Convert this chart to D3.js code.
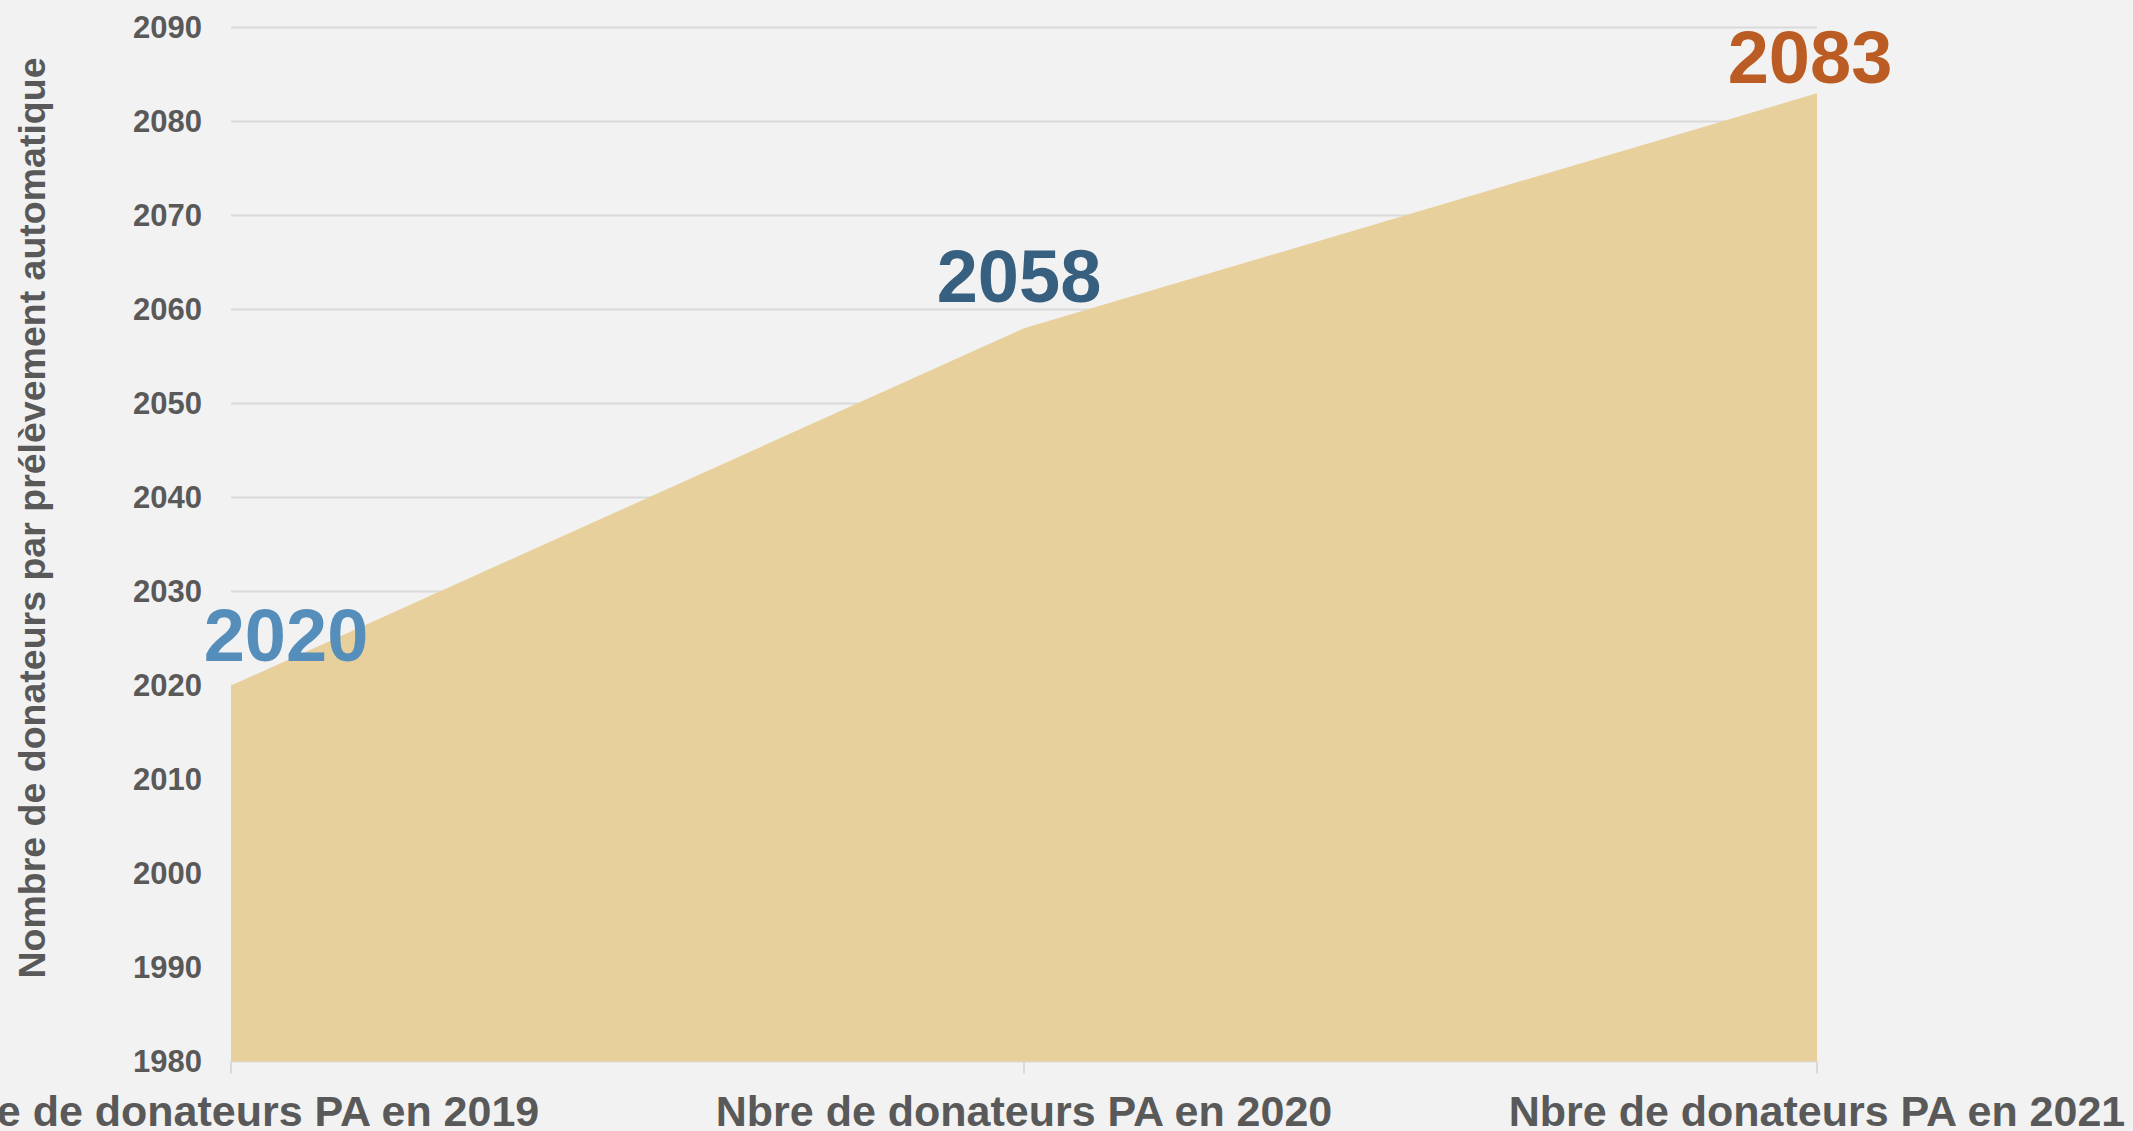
<!DOCTYPE html>
<html>
<head>
<meta charset="utf-8">
<script src="https://cdn.jsdelivr.net/npm/d3@7"></script>
<style>
  html, body { margin: 0; padding: 0; background: #f2f2f2; overflow: hidden; }
  svg { display: block; }
</style>
</head>
<body>
<svg id="chart" width="2133" height="1131"></svg>
<script>
const categories = ["Nbre de donateurs PA en 2019", "Nbre de donateurs PA en 2020", "Nbre de donateurs PA en 2021"];
const values = [2020, 2058, 2083];
const yTicks = [1980, 1990, 2000, 2010, 2020, 2030, 2040, 2050, 2060, 2070, 2080, 2090];
const yTitle = "Nombre de donateurs par prélèvement automatique";
const labelColors = ["#568ebb", "#365f80", "#ba5c23"];

(function () {
const W = 2133, H = 1131;
const svg = d3.select("#chart");
svg.append("rect").attr("width", W).attr("height", H).attr("fill", "#f2f2f2");

const plotLeft = 231, plotRight = 1817, plotTop = 27.5, plotBottom = 1061.5;
const x = d3.scalePoint().domain(categories).range([plotLeft, plotRight]);
const y = d3.scaleLinear().domain([1980, 2090]).range([plotBottom, plotTop]);

const textColor = "#595959";
const font = "'Liberation Sans', Arial, sans-serif";

// gridlines
svg.append("g").selectAll("line").data(yTicks.filter(t => t !== 1980)).join("line")
  .attr("x1", plotLeft).attr("x2", plotRight)
  .attr("y1", d => y(d)).attr("y2", d => y(d))
  .attr("stroke", "#d9d9d9").attr("stroke-width", 2);

// y tick labels
svg.append("g").selectAll("text").data(yTicks).join("text")
  .attr("x", 202).attr("y", d => y(d))
  .attr("text-anchor", "end").attr("dominant-baseline", "central")
  .attr("font-family", font).attr("font-weight", "bold").attr("font-size", 31)
  .attr("fill", textColor).text(d => d);

// x axis line + ticks
svg.append("line").attr("x1", plotLeft).attr("x2", plotRight)
  .attr("y1", plotBottom).attr("y2", plotBottom)
  .attr("stroke", "#d9d9d9").attr("stroke-width", 2);
svg.append("g").selectAll("line").data(categories).join("line")
  .attr("x1", d => x(d)).attr("x2", d => x(d))
  .attr("y1", plotBottom).attr("y2", plotBottom + 12)
  .attr("stroke", "#d9d9d9").attr("stroke-width", 2);

// area
const data = categories.map((c, i) => ({ c, v: values[i] }));
const area = d3.area().x(d => x(d.c)).y0(y(1980)).y1(d => y(d.v));
svg.append("path").datum(data).attr("d", area).attr("fill", "#e8d09d");

// x labels
svg.append("g").selectAll("text").data(categories).join("text")
  .attr("x", d => x(d)).attr("y", 1126)
  .attr("text-anchor", "middle")
  .attr("font-family", font).attr("font-weight", "bold").attr("font-size", 43)
  .attr("fill", textColor).text(d => d);

// y title
svg.append("text")
  .attr("transform", "translate(45,518) rotate(-90)")
  .attr("text-anchor", "middle")
  .attr("font-family", font).attr("font-weight", "bold").attr("font-size", 37.5)
  .attr("fill", textColor).text(yTitle);

// data labels
const labelOffsets = [{ dx: 55, dy: -25 }, { dx: -5, dy: -26 }, { dx: -7, dy: -10 }];
svg.append("g").selectAll("text").data(data).join("text")
  .attr("x", (d, i) => x(d.c) + labelOffsets[i].dx)
  .attr("y", (d, i) => y(d.v) + labelOffsets[i].dy)
  .attr("text-anchor", "middle")
  .attr("font-family", font).attr("font-weight", "bold").attr("font-size", 74)
  .attr("fill", (d, i) => labelColors[i]).text(d => d.v);
})();
</script>
</body>
</html>
